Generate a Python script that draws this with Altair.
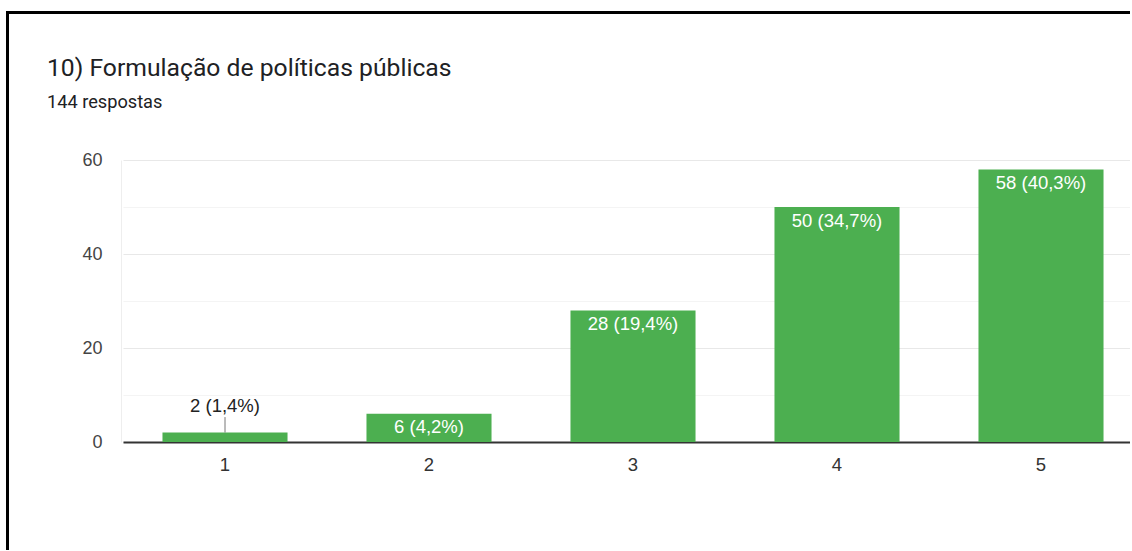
import altair as alt
import pandas as pd

categories = ["1", "2", "3", "4", "5"]
counts = [2, 6, 28, 50, 58]
labels = ["2 (1,4%)", "6 (4,2%)", "28 (19,4%)", "50 (34,7%)", "58 (40,3%)"]
y_ticks = [0, 10, 20, 30, 40, 50, 60]
title_text = "10) Formulação de políticas públicas"
subtitle_text = "144 respostas"

df = pd.DataFrame({"category": categories, "count": counts, "label": labels})

LABEL_FONT = "Liberation Sans"

x_enc = alt.X(
    "category:N",
    sort=categories,
    scale=alt.Scale(range=[2, 1022], paddingInner=0.387, paddingOuter=0.1935),
    axis=alt.Axis(
        title=None, labelAngle=0, ticks=False, grid=False,
        domainColor="#333333", domainWidth=2,
        labelFont=LABEL_FONT, labelFontSize=18.5, labelColor="#333333",
        labelPadding=13,
    ),
)
y_enc = alt.Y(
    "count:Q",
    scale=alt.Scale(domain=[0, 60], nice=False),
    axis=alt.Axis(
        title=None, values=y_ticks,
        labelExpr="datum.value % 20 === 0 ? datum.label : ''",
        ticks=False, domain=True, domainColor="#eeeeee", domainWidth=1,
        labelFont=LABEL_FONT, labelFontSize=18, labelColor="#444444",
        labelPadding=19,
        gridColor=alt.condition("datum.value % 20 === 0",
                                alt.value("#e8e8e8"), alt.value("#f4f4f4")),
        gridWidth=1.2,
    ),
)

base = alt.Chart(df)

bars = base.mark_bar(color="#4CAF50").encode(x=x_enc, y=y_enc)

inside = base.transform_filter("datum.count >= 5").mark_text(
    baseline="alphabetic", dy=19.5, color="white",
    font=LABEL_FONT, fontSize=18.5,
).encode(x=alt.X("category:N", sort=categories), y="count:Q", text="label:N")

outside = base.transform_filter("datum.count < 5").mark_text(
    baseline="alphabetic", dy=-21, color="#222222",
    font=LABEL_FONT, fontSize=18.5,
).encode(x=alt.X("category:N", sort=categories), y="count:Q", text="label:N")

leader = base.transform_filter("datum.count < 5").transform_calculate(
    top="datum.count + 3.3"
).mark_rule(color="#777777", strokeWidth=1).encode(
    x=alt.X("category:N", sort=categories), y="count:Q", y2="top:Q"
)

single = alt.Data(values=[{"k": 0}])
frame_top = alt.Chart(single).mark_rule(color="black", strokeWidth=3).encode(
    x=alt.value(-113.5), x2=alt.value(1030), y=alt.value(-147.5)
)
frame_left = alt.Chart(single).mark_rule(color="black", strokeWidth=3).encode(
    x=alt.value(-113.5), y=alt.value(-149), y2=alt.value(400)
)

title_mark = alt.Chart(single).mark_text(
    align="left", baseline="alphabetic", font="Roboto", fontSize=24.7,
    color="#202124",
).encode(x=alt.value(-74), y=alt.value(-84), text=alt.value(title_text))

subtitle_mark = alt.Chart(single).mark_text(
    align="left", baseline="alphabetic", font="Roboto", fontSize=18.2,
    color="#202124",
).encode(x=alt.value(-74), y=alt.value(-52), text=alt.value(subtitle_text))

chart = alt.layer(
    bars, inside, outside, leader, frame_top, frame_left, title_mark, subtitle_mark
).properties(
    width=1009,
    height=282,
    autosize=alt.AutoSizeParams(type="none"),
    padding={"left": 121, "top": 160, "right": 0, "bottom": 108},
).configure_view(stroke=None)

chart.save("out.html", embed_options={"renderer": "svg", "actions": False})
